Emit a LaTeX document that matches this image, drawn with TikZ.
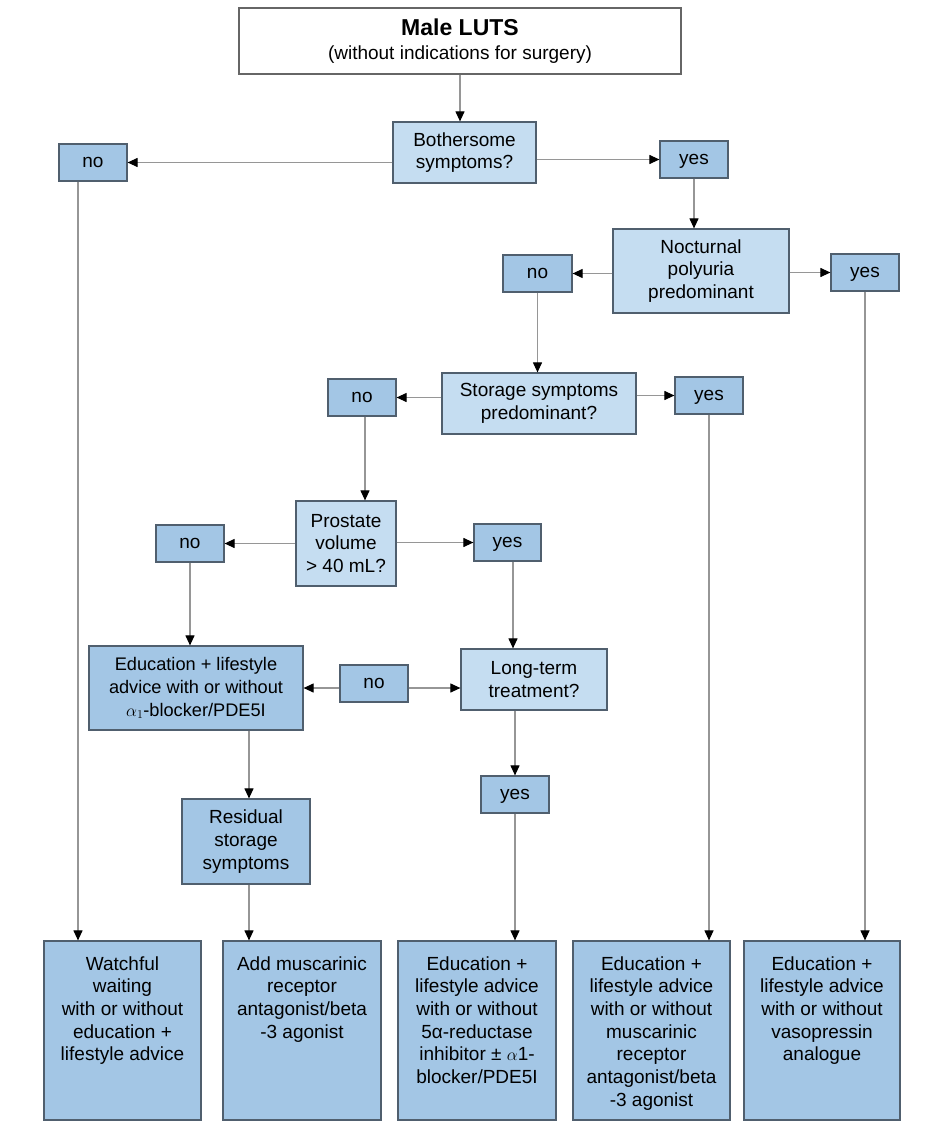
\documentclass[tikz,border=0pt]{standalone}
\usepackage{fontspec}
\setmainfont{Liberation Sans}
\usetikzlibrary{arrows.meta}
\definecolor{lightb}{RGB}{197,221,241}
\definecolor{darkb}{RGB}{163,198,229}
\definecolor{bord}{RGB}{80,95,110}
\definecolor{linec}{RGB}{150,150,150}
\tikzset{
 base/.style={draw=bord, line width=1.2pt, inner sep=0pt, align=center, font=\fontsize{19}{22.7}\selectfont},
 qbox/.style={base, fill=lightb},
 abox/.style={base, fill=darkb},
 yn/.style={abox, minimum width=68pt, minimum height=37pt, text height=10pt, text depth=0pt},
 finalbox/.style={abox, minimum height=179pt},
 arr/.style={draw=linec, line width=1.1pt, -{Triangle[length=10pt,width=9pt,color=black]}},
}
\newcommand{\outtext}[2]{\parbox[c][179pt][t]{#1}{\centering\rule{0pt}{29pt}#2}}
\begin{document}
\begin{tikzpicture}[x=1pt,y=-1pt]
\fill[white] (0,0) rectangle (944,1134);
\useasboundingbox (0,0) rectangle (944,1134);

\node[base, fill=white, draw=black!60, minimum width=442pt, minimum height=66pt] (top) at (460,41)
  {{\fontsize{23}{24}\selectfont\bfseries Male LUTS}\\[1pt](without indications for surgery)};

\node[qbox, minimum width=143pt, minimum height=61pt] (bother) at (464.5,152.5) {Bothersome\\symptoms?};
\node[yn] (no1) at (93,162.5) {no};
\node[yn] (yes1) at (694,159.5) {yes};

\node[qbox, minimum width=176pt, minimum height=84pt] (noct) at (701,271) {Nocturnal\\polyuria\\predominant};
\node[yn, minimum width=69pt] (no2) at (537.5,273.5) {no};
\node[yn] (yes2) at (865,272.5) {yes};

\node[qbox, minimum width=194pt, minimum height=61pt] (stor) at (539,403.5) {Storage symptoms\\predominant?};
\node[yn] (no3) at (362,397.5) {no};
\node[yn] (yes3) at (709,395.5) {yes};

\node[qbox, minimum width=100pt, minimum height=85pt] (prost) at (346,543.5) {Prostate\\volume\\> 40 mL?};
\node[yn] (no4) at (190,543.5) {no};
\node[yn, minimum width=67pt] (yes4) at (507.5,542.5) {yes};

\node[abox, minimum width=214pt, minimum height=84pt, font=\fontsize{18.2}{22.7}\selectfont] (eduA) at (196,688)
  {Education + lifestyle\\advice with or without\\$\alpha_1$-blocker/PDE5I};
\node[yn] (no5) at (374,683.5) {no};
\node[qbox, minimum width=146pt, minimum height=61pt] (long) at (534,679.5) {Long-term\\treatment?};

\node[yn] (yes5) at (515,794.5) {yes};
\node[abox, minimum width=128pt, minimum height=85pt] (resid) at (246,841.5) {Residual\\storage\\symptoms};

\node[finalbox, minimum width=157pt] (watch) at (122.5,1030.5)
  {\outtext{153pt}{Watchful\\waiting\\with or without\\education +\\lifestyle advice}};
\node[finalbox, minimum width=158pt] (addm) at (302,1030.5)
  {\outtext{154pt}{Add muscarinic\\receptor\\antagonist/beta\\-3 agonist}};
\node[finalbox, minimum width=158pt] (edu5) at (477,1030.5)
  {\outtext{154pt}{Education +\\lifestyle advice\\with or without\\5α-reductase\\inhibitor ± $\alpha$1-\\blocker/PDE5I}};
\node[finalbox, minimum width=157pt] (edum) at (651.5,1030.5)
  {\outtext{153pt}{Education +\\lifestyle advice\\with or without\\muscarinic\\receptor\\antagonist/beta\\-3 agonist}};
\node[finalbox, minimum width=156pt] (eduv) at (822,1030.5)
  {\outtext{152pt}{Education +\\lifestyle advice\\with or without\\vasopressin\\analogue}};

% connectors
\draw[arr] (top.south) -- (top.south |- bother.north);
\draw[arr] (bother.west |- no1) -- (no1.east);
\draw[arr] (bother.east |- yes1) -- (yes1.west);
\draw[arr] ([xshift=-15pt]no1.south) -- ([xshift=-15pt]no1.south |- watch.north);
\draw[arr] (yes1.south) -- (yes1.south |- noct.north);
\draw[arr] (noct.west |- no2) -- (no2.east);
\draw[arr] (noct.east |- yes2) -- (yes2.west);
\draw[arr] (yes2.south) -- (yes2.south |- eduv.north);
\draw[arr] (no2.south) -- (no2.south |- stor.north);
\draw[arr] (stor.west |- no3) -- (no3.east);
\draw[arr] (stor.east |- yes3) -- (yes3.west);
\draw[arr] (yes3.south) -- (yes3.south |- edum.north);
\draw[arr] ([xshift=3pt]no3.south) -- ([xshift=3pt]no3.south |- prost.north);
\draw[arr] (prost.west |- no4) -- (no4.east);
\draw[arr] (prost.east |- yes4) -- (yes4.west);
\draw[arr] (no4.south) -- (no4.south |- eduA.north);
\draw[arr] ([xshift=5.5pt]yes4.south) -- ([xshift=5.5pt]yes4.south |- long.north);
\draw[arr] (no5.west |- eduA) -- (eduA.east);
\draw[arr] (no5.east |- eduA) -- (long.west |- eduA);
\draw[arr] (yes5.north |- long.south) -- (yes5.north);
\draw[arr] (yes5.south) -- (yes5.south |- edu5.north);
\draw[arr] ([xshift=3pt]resid.north |- eduA.south) -- ([xshift=3pt]resid.north);
\draw[arr] ([xshift=3pt]resid.south) -- ([xshift=3pt]resid.south |- addm.north);
\end{tikzpicture}
\end{document}
